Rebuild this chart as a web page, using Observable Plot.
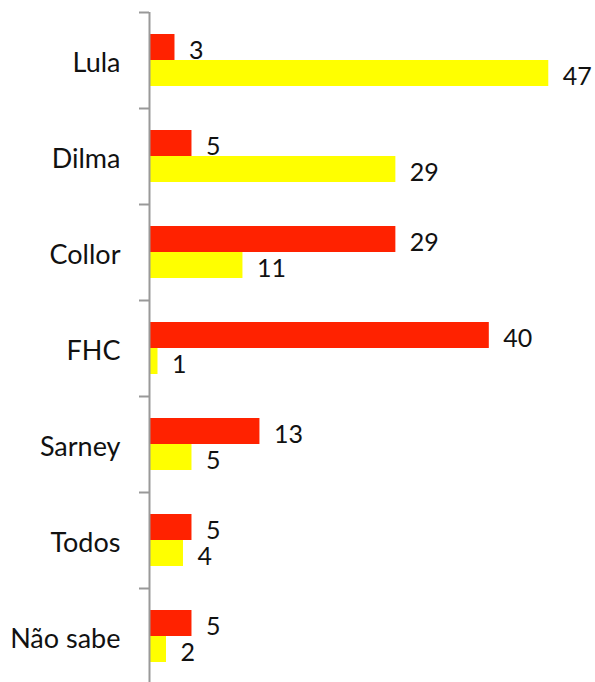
<!DOCTYPE html>
<html>
<head>
<meta charset="utf-8">
<script src="https://cdn.jsdelivr.net/npm/d3@7"></script>
<script src="https://cdn.jsdelivr.net/npm/@observablehq/plot@0.6"></script>
<style>
  html, body { margin: 0; padding: 0; background: #fff; overflow: hidden; }
  #chart svg { display: block; }
</style>
</head>
<body>
<div id="chart"></div>
<script>
const categories = ["Lula", "Dilma", "Collor", "FHC", "Sarney", "Todos", "Não sabe"];
const seriesNames = ["vermelho", "amarelo"];
const redValues = [3, 5, 29, 40, 13, 5, 5];
const yellowValues = [47, 29, 11, 1, 5, 4, 2];
const seriesColors = ["#ff2200", "#ffff00"];

const data = [];
categories.forEach((c, i) => {
  data.push({cat: c, series: seriesNames[0], value: redValues[i]});
  data.push({cat: c, series: seriesNames[1], value: yellowValues[i]});
});

const font = "Lato, 'Open Sans', sans-serif";

const chart = Plot.plot({
  width: 595,
  height: 684,
  marginTop: 12,
  marginBottom: 0,
  marginLeft: 149,
  marginRight: 0,
  style: {fontFamily: font, fontSize: "25px", color: "#111", background: "#fff"},
  x: {domain: [0, 52.5], axis: null},
  y: {domain: seriesNames, paddingInner: 0, paddingOuter: 0.78, axis: null},
  fy: {domain: categories, padding: 0, axis: null},
  color: {domain: seriesNames, range: seriesColors},
  marks: [
    Plot.barX(data, {fy: "cat", y: "series", x: "value", fill: "series"}),
    Plot.text(data, {fy: "cat", y: "series", x: "value", text: d => String(d.value),
      textAnchor: "start", dx: 14, dy: 3, fill: "#111", fontSize: 25}),
    Plot.ruleX([0], {stroke: "#999", strokeWidth: 2}),
    Plot.axisFy({anchor: "left", label: null, tickSize: 0, tickPadding: 29, fontSize: 27, fill: "#111", dy: 3}),
    Plot.axisFy({anchor: "left", label: null, tickSize: 10, text: null, stroke: "#999", strokeWidth: 2, dy: -48})
  ]
});

document.getElementById("chart").appendChild(chart);
</script>
</body>
</html>
